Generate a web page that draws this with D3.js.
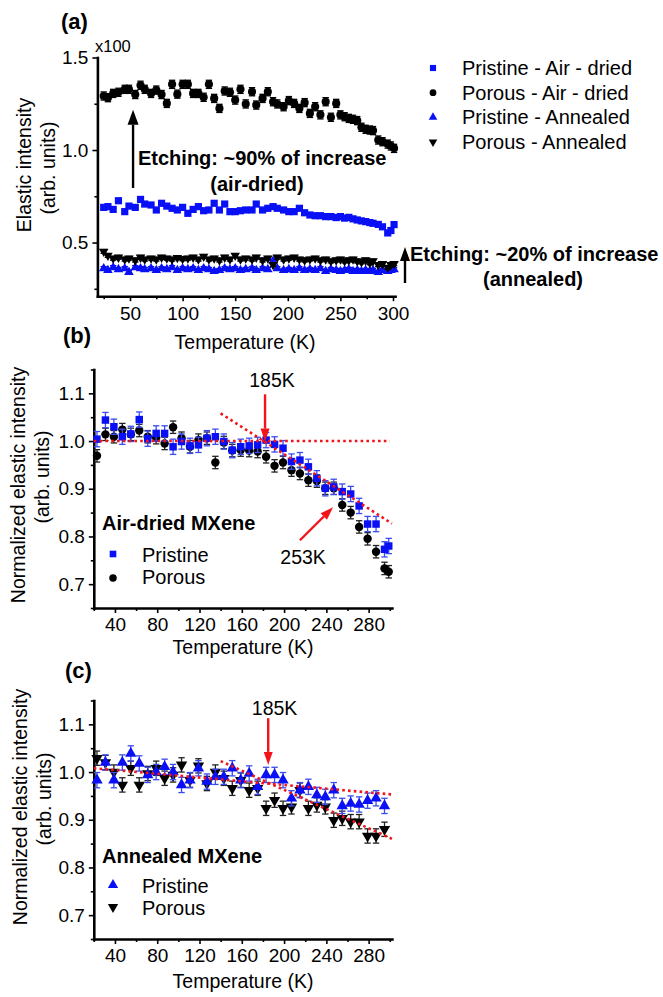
<!DOCTYPE html>
<html>
<head>
<meta charset="utf-8">
<title>Elastic intensity vs temperature</title>
<script src="https://cdn.jsdelivr.net/npm/d3@7"></script>
<style>
  body{ margin:0; background:#fff; }
  svg{ display:block; font-family:"Liberation Sans", Arial, sans-serif; }
</style>
</head>
<body>
<svg id="fig" width="663" height="997"></svg>
<script>

//DATA - PANEL (a), raw elastic intensity (x100)

var tempA = [25,29,34,39,45,49,55,60,64,70,75,80,85,90,95,100,105,110,115,120,
  125,130,135,140,145,150,155,160,166,170,176,181,186,190,196,201,206,211,216,221,
  226,231,236,241,246,250,254,258,262,266,270,274,278,281,286,290,295,298,301];

var airPorousA = [1.292,1.283,1.306,1.312,1.328,1.328,1.300,1.350,1.328,1.306,
  1.324,1.300,1.252,1.355,1.302,1.355,1.355,1.306,1.306,1.285,
  1.355,1.279,1.225,1.319,1.312,1.270,1.328,1.249,1.315,1.243,
  1.279,1.315,1.261,1.249,1.234,1.267,1.252,1.225,1.256,1.198,
  1.234,1.190,1.261,1.177,1.252,1.190,1.180,1.171,1.166,1.159,
  1.123,1.112,1.108,1.105,1.054,1.045,1.032,1.022,1.009];

var airPristineA = [0.690,0.694,0.679,0.726,0.667,0.697,0.690,0.733,0.708,0.703,
  0.676,0.712,0.697,0.685,0.676,0.690,0.658,0.679,0.694,0.672,
  0.676,0.712,0.676,0.708,0.667,0.667,0.672,0.676,0.676,0.708,
  0.676,0.685,0.694,0.685,0.676,0.667,0.667,0.685,0.661,0.649,
  0.645,0.645,0.640,0.640,0.635,0.640,0.632,0.636,0.628,0.622,
  0.617,0.613,0.608,0.604,0.598,0.585,0.552,0.565,0.597];

var annPorousA = [0.452,0.430,0.415,0.420,0.410,0.415,0.405,0.420,0.410,0.415,
  0.410,0.420,0.415,0.410,0.418,0.412,0.415,0.420,0.410,0.425,
  0.410,0.415,0.405,0.420,0.410,0.430,0.410,0.415,0.410,0.420,
  0.405,0.415,0.380,0.420,0.410,0.415,0.420,0.410,0.405,0.410,
  0.415,0.405,0.410,0.400,0.405,0.410,0.400,0.405,0.410,0.400,
  0.395,0.405,0.390,0.400,0.380,0.385,0.365,0.380,0.385];

var annPristineA = [0.360,0.350,0.365,0.355,0.360,0.340,0.365,0.360,0.355,0.360,
  0.350,0.360,0.355,0.365,0.350,0.360,0.355,0.360,0.350,0.360,
  0.355,0.345,0.350,0.360,0.355,0.360,0.350,0.355,0.360,0.350,
  0.360,0.355,0.400,0.360,0.350,0.355,0.350,0.360,0.350,0.355,
  0.350,0.360,0.345,0.355,0.350,0.345,0.350,0.355,0.345,0.350,
  0.345,0.350,0.345,0.350,0.340,0.350,0.345,0.350,0.355];

//DATA - PANELS (b) AND (c), normalized intensity

var tempB = [23,31,39,47,55,63,71,79,87,95,103,111,119,127,135,143,151,159,
  167,175,183,191,199,207,215,223,231,239,247,255,263,271,279,287,295,299];

var airPristineB = [1.004,1.044,1.030,1.009,1.015,1.045,1.005,1.016,1.016,0.988,
  0.999,0.990,0.992,1.006,1.009,0.999,0.981,0.988,0.990,0.992,
  1.002,0.993,0.985,0.957,0.960,0.946,0.922,0.901,0.904,0.894,
  0.889,0.864,0.826,0.826,0.773,0.780];

var airPorousB = [0.969,1.014,1.009,1.024,1.014,1.022,1.009,1.007,0.995,1.029,
  1.006,0.988,1.002,1.006,0.955,0.997,0.980,0.981,0.980,0.978,
  0.967,0.948,0.955,0.939,0.932,0.918,0.916,0.901,0.901,0.866,
  0.850,0.820,0.795,0.768,0.733,0.726];

var tempC = [23,31,39,47,55,63,71,79,87,95,103,111,119,127,135,143,151,159,
  167,175,183,191,199,207,215,223,231,239,247,255,263,271,279,287,295];

var annPristineC = [0.983,1.020,0.983,1.020,1.039,1.018,0.994,1.000,1.011,1.000,
  0.973,0.983,1.008,0.980,0.990,0.990,1.008,0.983,0.997,0.969,
  0.994,0.994,0.983,0.945,0.962,0.969,0.952,0.948,0.962,0.929,
  0.934,0.932,0.940,0.945,0.929];

var annPorousC = [1.029,1.020,1.000,0.973,1.008,0.973,0.997,1.008,0.987,0.994,
  1.015,0.983,1.013,0.976,1.000,0.987,0.966,0.983,0.962,0.966,
  0.924,0.941,0.924,0.927,0.962,0.924,0.931,0.927,0.899,0.903,
  0.896,0.896,0.866,0.866,0.880];

// dotted guide lines: [T start, T end], [value start, value end]
var fitB = [ {t:[20,300], v:[1.000,1.000]}, {t:[140,302], v:[1.058,0.827]} ];
var fitC = [ {t:[20,302], v:[1.008,0.953]}, {t:[140,302], v:[1.023,0.860]} ];

var legendA = ["Pristine - Air - dried", "Porous - Air - dried",
               "Pristine - Annealed", "Porous - Annealed"];

//SETUP

var BLUE = "#0a10f5";
var BLUEBAR = "#3a4cf0";
var BLACK = "#000";
var RED = "#f2141a";

var svg = d3.select("#fig");

function panel(o) {
  var g = svg.append("g");
  var x = d3.scaleLinear().domain(o.xd).range(o.xr);
  var y = d3.scaleLinear().domain(o.yd).range(o.yr);

  var xm = g.append("g").attr("transform", "translate(0," + o.yr[0] + ")")
    .call(d3.axisBottom(x).tickValues(o.xMinor).tickSize(3).tickFormat(""));
  xm.select(".domain").remove();
  var ym = g.append("g").attr("transform", "translate(" + o.xr[0] + ",0)")
    .call(d3.axisLeft(y).tickValues(o.yMinor).tickSize(3).tickFormat(""));
  ym.select(".domain").remove();

  var xa = g.append("g").attr("transform", "translate(0," + o.yr[0] + ")")
    .call(d3.axisBottom(x).tickValues(o.xMajor).tickSize(5).tickSizeOuter(0).tickPadding(5));
  var ya = g.append("g").attr("transform", "translate(" + o.xr[0] + ",0)")
    .call(d3.axisLeft(y).tickValues(o.yMajor).tickSize(5).tickSizeOuter(0).tickPadding(4)
      .tickFormat(d3.format(".1f")));

  [xa, ya, xm, ym].forEach(function(a){
    a.selectAll(".tick line").attr("stroke", "#000").attr("stroke-width", 1.6);
    a.selectAll("text").attr("font-size", 19).attr("fill", "#000")
      .attr("font-family", "Liberation Sans, Arial, sans-serif");
  });
  [xa, ya].forEach(function(a){
    a.select(".domain").attr("stroke", "#000").attr("stroke-width", 2.6)
      .attr("stroke-linecap", "square");
  });
  return {g: g, x: x, y: y};
}

function series(p, temps, vals, err, type, flip, size, fill, barColor) {
  var pts = temps.map(function(t, i){ return {t: t, v: vals[i]}; });
  if (err > 0) {
    var eb = p.g.append("g").attr("stroke", barColor).attr("stroke-width", 1.3);
    eb.selectAll("line.v").data(pts).join("line").attr("class", "v")
      .attr("x1", function(d){ return p.x(d.t); })
      .attr("x2", function(d){ return p.x(d.t); })
      .attr("y1", function(d){ return p.y(d.v - err); })
      .attr("y2", function(d){ return p.y(d.v + err); });
    [-err, err].forEach(function(e){
      eb.append("g").selectAll("line").data(pts).join("line")
        .attr("x1", function(d){ return p.x(d.t) - 3.2; })
        .attr("x2", function(d){ return p.x(d.t) + 3.2; })
        .attr("y1", function(d){ return p.y(d.v + e); })
        .attr("y2", function(d){ return p.y(d.v + e); });
    });
  }
  p.g.append("g").selectAll("path").data(pts).join("path")
    .attr("d", d3.symbol(type, size))
    .attr("transform", function(d){
      return "translate(" + p.x(d.t) + "," + p.y(d.v) + ")" + (flip ? " rotate(180)" : "");
    })
    .attr("fill", fill);
}

function arrow(x1, y1, x2, y2, color, w, hl, hw) {
  var a = Math.atan2(y2 - y1, x2 - x1);
  var bx = x2 - hl * Math.cos(a), by = y2 - hl * Math.sin(a);
  svg.append("line").attr("x1", x1).attr("y1", y1).attr("x2", bx).attr("y2", by)
    .attr("stroke", color).attr("stroke-width", w);
  var px = -Math.sin(a) * hw / 2, py = Math.cos(a) * hw / 2;
  svg.append("path")
    .attr("d", "M" + x2 + "," + y2 + "L" + (bx + px) + "," + (by + py) + "L" + (bx - px) + "," + (by - py) + "Z")
    .attr("fill", color);
}

function label(x, y, txt, size, weight, anchor, color) {
  return svg.append("text").attr("x", x).attr("y", y).text(txt)
    .attr("font-size", size).attr("font-weight", weight || "normal")
    .attr("text-anchor", anchor || "start").attr("fill", color || "#000");
}

function ytitle(x, y, txt) {
  svg.append("text").attr("transform", "translate(" + x + "," + y + ") rotate(-90)")
    .attr("text-anchor", "middle").attr("font-size", 19.5).attr("fill", "#000").text(txt);
}

function fits(p, lines) {
  p.g.append("g").selectAll("line").data(lines).join("line")
    .attr("x1", function(d){ return p.x(d.t[0]); })
    .attr("x2", function(d){ return p.x(d.t[1]); })
    .attr("y1", function(d){ return p.y(d.v[0]); })
    .attr("y2", function(d){ return p.y(d.v[1]); })
    .attr("stroke", RED).attr("stroke-width", 2.6).attr("stroke-dasharray", "2.6,3.2");
}

//PANEL (a)

var pa = panel({
  xd: [19, 302], xr: [97.4, 395.1],
  yd: [0.21, 1.5], yr: [296.2, 57.5],
  xMajor: d3.range(50, 301, 50), xMinor: d3.range(25, 300, 50),
  yMajor: [0.5, 1.0, 1.5], yMinor: [0.25, 0.75, 1.25]
});

series(pa, tempA, annPristineA, 0.01, d3.symbolTriangle, false, 40, BLUE, BLUE);
series(pa, tempA, annPorousA, 0.01, d3.symbolTriangle, true, 40, BLACK, BLACK);
series(pa, tempA, airPristineA, 0, d3.symbolSquare, false, 52, BLUE, BLUE);
series(pa, tempA, airPorousA, 0.022, d3.symbolCircle, false, 52, BLACK, BLACK);

label(61, 29, "(a)", 22, "bold");
label(95, 52, "x100", 16.5);
label(245, 349, "Temperature (K)", 19.5, "normal", "middle");
ytitle(31, 165, "Elastic intensity");
ytitle(55, 168, "(arb. units)");

// legend (a)
var legShapes = [
  {type: d3.symbolSquare, flip: false, size: 38, fill: BLUE},
  {type: d3.symbolCircle, flip: false, size: 36, fill: BLACK},
  {type: d3.symbolTriangle, flip: false, size: 32, fill: BLUE},
  {type: d3.symbolTriangle, flip: true, size: 32, fill: BLACK}
];
var legRowY = d3.scaleLinear().domain([0, 3]).range([68, 142]);
legendA.forEach(function(name, i){
  var s = legShapes[i];
  svg.append("path").attr("d", d3.symbol(s.type, s.size))
    .attr("transform", "translate(433," + legRowY(i) + ")" + (s.flip ? " rotate(180)" : ""))
    .attr("fill", s.fill);
  label(462, legRowY(i) + 7, name, 20);
});

// etching annotations
arrow(pa.x(52.9), pa.y(0.795), pa.x(52.9), pa.y(1.218), BLACK, 2.4, 15, 11);
label(138, 164.5, "Etching: ~90% of increase", 20, "bold");
label(257, 191, "(air-dried)", 20, "bold", "middle");
arrow(405, 283, 405, 247, BLACK, 2.4, 14, 10);
label(410, 261, "Etching: ~20% of increase", 20, "bold");
label(533, 286, "(annealed)", 20, "bold", "middle");

//PANEL (b)

var pb = panel({
  xd: [20, 302], xr: [93.8, 391.9],
  yd: [0.65, 1.15], yr: [608, 369.5],
  xMajor: d3.range(40, 281, 40), xMinor: d3.range(20, 301, 40),
  yMajor: [0.7, 0.8, 0.9, 1.0, 1.1], yMinor: [0.65, 0.75, 0.85, 0.95, 1.05, 1.15]
});

series(pb, tempB, airPorousB, 0.013, d3.symbolCircle, false, 56, BLACK, "#222");
series(pb, tempB, airPristineB, 0.016, d3.symbolSquare, false, 56, BLUE, BLUEBAR);
fits(pb, fitB);

label(63, 343, "(b)", 22, "bold");
label(243, 654, "Temperature (K)", 19.5, "normal", "middle");
ytitle(25, 485, "Normalized elastic intensity");
ytitle(49, 477, "(arb. units)");

label(pb.x(188.6), 387, "185K", 19.5, "normal", "middle");
arrow(pb.x(182), pb.y(1.098), pb.x(182), pb.y(0.999), RED, 2.4, 13, 9);
arrow(pb.x(215), pb.y(0.792), pb.x(246.3), pb.y(0.861), RED, 2.4, 13, 9);
label(pb.x(218), 564, "253K", 19.5, "normal", "middle");

label(102, 530, "Air-dried MXene", 20, "bold");
svg.append("path").attr("d", d3.symbol(d3.symbolSquare, 44))
  .attr("transform", "translate(113,554)").attr("fill", BLUE);
label(142, 562, "Pristine", 20);
svg.append("path").attr("d", d3.symbol(d3.symbolCircle, 44))
  .attr("transform", "translate(113,578)").attr("fill", BLACK);
label(142, 584, "Porous", 20);

//PANEL (c)

var pc = panel({
  xd: [20, 302], xr: [93.8, 391.9],
  yd: [0.65, 1.15], yr: [939, 700.5],
  xMajor: d3.range(40, 281, 40), xMinor: d3.range(20, 301, 40),
  yMajor: [0.7, 0.8, 0.9, 1.0, 1.1], yMinor: [0.65, 0.75, 0.85, 0.95, 1.05, 1.15]
});

series(pc, tempC, annPorousC, 0.015, d3.symbolTriangle, true, 56, BLACK, "#222");
series(pc, tempC, annPristineC, 0.016, d3.symbolTriangle, false, 56, BLUE, BLUEBAR);
fits(pc, fitC);

label(65, 678, "(c)", 22, "bold");
label(243, 988, "Temperature (K)", 19.5, "normal", "middle");
ytitle(27, 807, "Normalized elastic intensity");
ytitle(51, 799, "(arb. units)");

label(pc.x(191), 715, "185K", 19.5, "normal", "middle");
arrow(pc.x(185), pc.y(1.113), pc.x(185), pc.y(1.015), RED, 2.4, 13, 9);

label(102, 863, "Annealed MXene", 20, "bold");
svg.append("path").attr("d", d3.symbol(d3.symbolTriangle, 46))
  .attr("transform", "translate(113,885)").attr("fill", BLUE);
label(142, 893, "Pristine", 20);
svg.append("path").attr("d", d3.symbol(d3.symbolTriangle, 46))
  .attr("transform", "translate(113,907) rotate(180)").attr("fill", BLACK);
label(142, 915, "Porous", 20);

</script>
</body>
</html>
